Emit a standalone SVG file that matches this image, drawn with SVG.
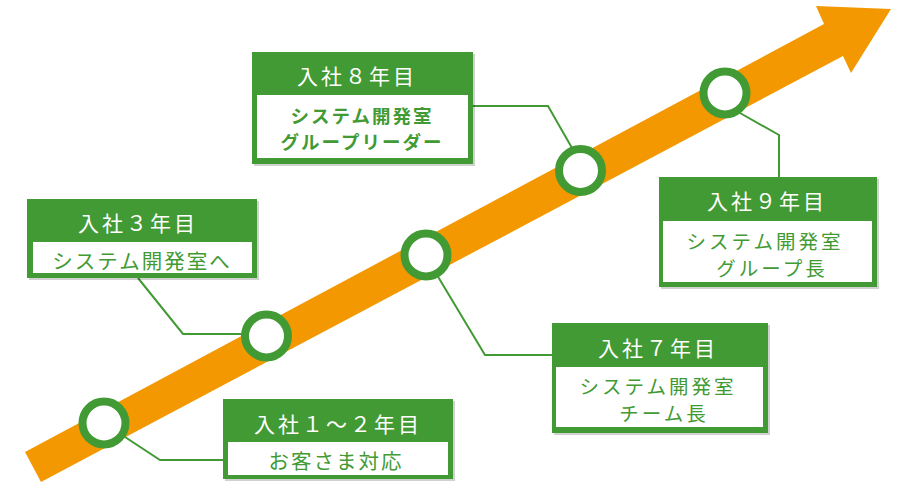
<svg xmlns="http://www.w3.org/2000/svg" width="900" height="500" viewBox="0 0 900 500">
<style>
.shadow{fill:#000;opacity:0.18}
.frame{fill:#429A34}
.inner{fill:#fff}
.head{font-family:"Noto Sans CJK JP","Noto Sans",sans-serif;font-size:21px;fill:#fff;letter-spacing:3px;text-anchor:middle;dominant-baseline:central}
.sub{font-family:"Noto Sans CJK JP","Noto Sans",sans-serif;font-size:20.5px;fill:#429A34;letter-spacing:2px;text-anchor:middle;dominant-baseline:central}
.sub2{font-family:"Noto Sans CJK JP","Noto Sans",sans-serif;font-size:19.5px;fill:#429A34;letter-spacing:3px;text-anchor:middle;dominant-baseline:central}
.subb{font-family:"Noto Sans CJK JP","Noto Sans",sans-serif;font-size:18.5px;font-weight:bold;fill:#429A34;letter-spacing:2px;text-anchor:middle;dominant-baseline:central}
.conn{fill:none;stroke:#429A34;stroke-width:2}
.marker{fill:#fff;stroke:#429A34;stroke-width:8}
</style>
<rect width="900" height="500" fill="#fff"/>
<polygon id="arrow" fill="#F39800" points="25,452 41,482 843,56 851,73 891,9 816,6 824,24"/>
<g id="connectors">
<polyline class="conn" points="125,437 160,460 224,460"/>
<polyline class="conn" points="138,278 183,334 242,334"/>
<polyline class="conn" points="473,106 548,106 572,148"/>
<polyline class="conn" points="740,113 779,135 779,178"/>
<polyline class="conn" points="437,275 485,355 553,355"/>
</g>
<g id="markers">
<circle id="m1" class="marker" cx="104" cy="423" r="21.5"/>
<circle id="m2" class="marker" cx="266.5" cy="336" r="21.5"/>
<circle id="m3" class="marker" cx="426" cy="255" r="21.5"/>
<circle id="m4" class="marker" cx="580.5" cy="170.5" r="21.5"/>
<circle id="m5" class="marker" cx="725" cy="93" r="21.5"/>
</g>
<g id="node1">
<rect class="shadow" x="225" y="401" width="230" height="80"/>
<rect class="frame" x="223" y="399" width="230" height="80"/>
<rect class="inner" x="228" y="442" width="220" height="33"/>
<text class="head" x="338" y="423">入社１～２年目</text>
<text class="sub" x="336" y="460">お客さま対応</text>
</g>
<g id="node2">
<rect class="shadow" x="29" y="201" width="230" height="79"/>
<rect class="frame" x="27" y="199" width="230" height="79"/>
<rect class="inner" x="33" y="242" width="219" height="31"/>
<text class="head" x="138" y="222">入社３年目</text>
<text class="sub" x="142" y="260">システム開発室へ</text>
</g>
<g id="node3">
<rect class="shadow" x="254" y="54" width="221" height="112"/>
<rect class="frame" x="252" y="52" width="221" height="112"/>
<rect class="inner" x="257" y="95" width="211" height="63"/>
<text class="head" x="357" y="75">入社８年目</text>
<text class="subb" x="362" y="115">システム開発室</text>
<text class="subb" x="362" y="141">グループリーダー</text>
</g>
<g id="node4">
<rect class="shadow" x="661" y="179" width="218" height="110"/>
<rect class="frame" x="659" y="177" width="218" height="110"/>
<rect class="inner" x="663" y="221" width="209" height="61"/>
<text class="head" x="767" y="200">入社９年目</text>
<text class="sub2" x="765" y="240">システム開発室</text>
<text class="sub2" x="772" y="267">グループ長</text>
</g>
<g id="node5">
<rect class="shadow" x="554" y="325" width="216" height="110"/>
<rect class="frame" x="552" y="323" width="216" height="110"/>
<rect class="inner" x="556" y="367" width="207" height="60"/>
<text class="head" x="658" y="347">入社７年目</text>
<text class="sub2" x="658" y="385">システム開発室</text>
<text class="sub2" x="664" y="412">チーム長</text>
</g>
</svg>
